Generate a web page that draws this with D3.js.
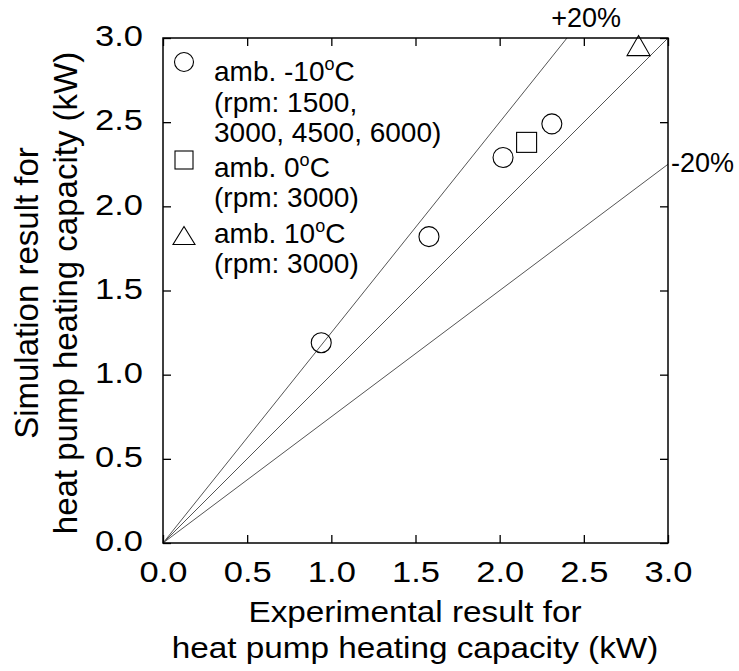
<!DOCTYPE html>
<html><head><meta charset="utf-8">
<script src="https://cdn.jsdelivr.net/npm/d3@7"></script>
<style>body{margin:0;background:#fff} text{font-family:"Liberation Sans",Arial,Helvetica,sans-serif;fill:#000}</style>
</head><body><svg id="c" width="739" height="671"></svg>
<script>
// ---- data ----
const xTickValues = [0, 0.5, 1.0, 1.5, 2.0, 2.5, 3.0];
const yTickValues = [0, 0.5, 1.0, 1.5, 2.0, 2.5, 3.0];
const circleX = [0.94, 1.58, 2.02, 2.31];
const circleY = [1.19, 1.82, 2.29, 2.49];
const squareX = [2.16];
const squareY = [2.38];
const triangleX = [2.825];
const triangleY = [2.955];
const refSlopes = [1.25, 1.0, 0.75];
const refLabels = ["+20%", "-20%"];
const legendTitles = ["amb. -10", "amb. 0", "amb. 10"];
const legendSub = [["(rpm: 1500,", "3000, 4500, 6000)"], ["(rpm: 3000)"], ["(rpm: 3000)"]];
const xTitle = ["Experimental result for", "heat pump heating capacity (kW)"];
const yTitle = ["Simulation result for", "heat pump heating capacity (kW)"];

// ---- layout ----
const L = 163, R = 668, T = 38, B = 543;
const svg = d3.select("#c");
const x = d3.scaleLinear().domain([0, 3]).range([L, R]);
const y = d3.scaleLinear().domain([0, 3]).range([B, T]);
const fmt = d3.format(".1f");
const sx = 1.15; // horizontal stretch of tick labels

// reference lines
const plot = svg.append("g");
refSlopes.forEach(s => {
  const xe = Math.min(3, 3 / s);
  plot.append("line")
    .attr("x1", x(0)).attr("y1", y(0))
    .attr("x2", x(xe)).attr("y2", y(s * xe))
    .attr("stroke", "#555").attr("stroke-width", 1);
});

// axes (inward ticks)
const tk = 8;
const gx = svg.append("g").attr("transform", `translate(0,${B})`)
  .call(d3.axisBottom(x).tickValues(xTickValues).tickFormat(fmt).tickSizeInner(-tk).tickSizeOuter(0).tickPadding(0));
gx.selectAll("text").attr("x", 0).attr("y", 39).attr("dy", null)
  .attr("transform", `scale(${sx},1)`).style("font-size", "30px").attr("font-family", null);
const gy = svg.append("g").attr("transform", `translate(${L},0)`)
  .call(d3.axisLeft(y).tickValues(yTickValues).tickFormat(fmt).tickSizeInner(-tk).tickSizeOuter(0).tickPadding(0));
gy.selectAll("text").attr("x", -20 / sx).attr("dy", "0.26em")
  .attr("transform", `scale(${sx},1)`).style("font-size", "30px").attr("font-family", null);
svg.append("g").attr("transform", `translate(0,${T})`)
  .call(d3.axisTop(x).tickValues(xTickValues).tickFormat("").tickSizeInner(-tk).tickSizeOuter(0));
svg.append("g").attr("transform", `translate(${R},0)`)
  .call(d3.axisRight(y).tickValues(yTickValues).tickFormat("").tickSizeInner(-tk).tickSizeOuter(0));
svg.selectAll(".domain").remove();
svg.selectAll(".tick line").attr("stroke", "#000").attr("stroke-width", 1.3);
svg.append("rect").attr("x", L).attr("y", T).attr("width", R - L).attr("height", B - T)
  .attr("fill", "none").attr("stroke", "#000").attr("stroke-width", 1.5);

// ref labels
svg.append("text").attr("x", x(3 / refSlopes[0]) + 54).attr("y", 27).attr("text-anchor", "end")
  .style("font-size", "27px").text(refLabels[0]);
svg.append("text").attr("x", R + 3).attr("y", 172)
  .style("font-size", "27px").text(refLabels[1]);

// data points
const pts = svg.append("g").attr("fill", "none").attr("stroke", "#000").attr("stroke-width", 1.1);
circleX.forEach((v, i) => pts.append("circle").attr("cx", x(v)).attr("cy", y(circleY[i])).attr("r", 10));
squareX.forEach((v, i) => pts.append("rect").attr("x", x(v) - 10).attr("y", y(squareY[i]) - 10).attr("width", 20).attr("height", 20));
const tri = (cx, cy, w, h) => `M${cx},${cy - h / 2}L${cx + w / 2},${cy + h / 2}L${cx - w / 2},${cy + h / 2}Z`;
triangleX.forEach((v, i) => pts.append("path").attr("d", tri(x(v), y(triangleY[i]), 23, 20)));

// legend
const lx = 184, tx = 214;
const leg = svg.append("g");
const lsym = leg.append("g").attr("fill", "none").attr("stroke", "#000").attr("stroke-width", 1.1);
lsym.append("circle").attr("cx", lx).attr("cy", 62).attr("r", 9.5);
lsym.append("rect").attr("x", lx - 9).attr("y", 151).attr("width", 18).attr("height", 18);
lsym.append("path").attr("d", tri(lx, 235.5, 22, 18));
const titleY = [81, 177, 243];
const subY = [[111.5, 142], [207], [273]];
legendTitles.forEach((t, i) => {
  const tt = leg.append("text").attr("x", tx).attr("y", titleY[i]).style("font-size", "28px");
  tt.append("tspan").text(t);
  tt.append("tspan").attr("dy", -11).style("font-size", "18px").text("o");
  tt.append("tspan").attr("dy", 11).text("C");
  legendSub[i].forEach((s, j) => leg.append("text").attr("x", tx).attr("y", subY[i][j]).style("font-size", "28px").text(s));
});

// axis titles
const xTitleY = [622, 658];
xTitle.forEach((t, i) => svg.append("text")
  .attr("transform", `translate(415,${xTitleY[i]}) scale(1.11,1)`)
  .attr("text-anchor", "middle").style("font-size", "30px").text(t));
const yTitleX = [38, 77];
yTitle.forEach((t, i) => svg.append("text")
  .attr("transform", `translate(${yTitleX[i]},293) rotate(-90)`)
  .attr("text-anchor", "middle").style("font-size", "33px").text(t));
</script></body></html>
